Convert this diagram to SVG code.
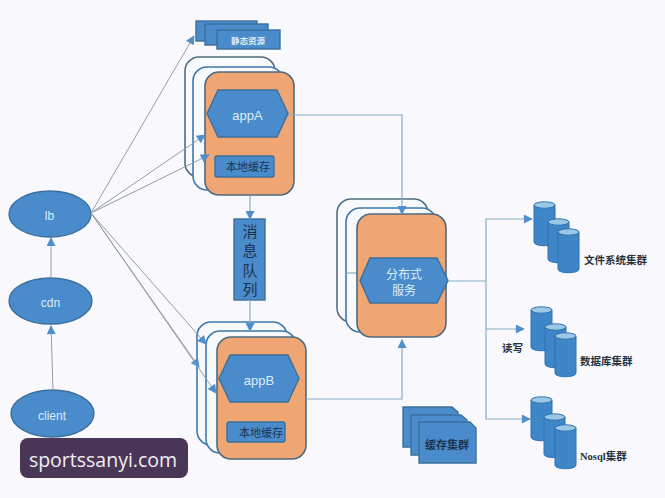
<svg xmlns="http://www.w3.org/2000/svg" width="665" height="498" viewBox="0 0 665 498">
<style>
.bk{fill:#f8f9fd;stroke:#4f6f80;stroke-width:1.6}
.bk2{fill:#f8f9fd;stroke:#3f78a8;stroke-width:1.6}
.or{fill:#f0a672;stroke:#4d6a80;stroke-width:1.6}
.bl{fill:#4a8bcb;stroke:#3c6f9c;stroke-width:1.4}
.cy{fill:#3f86c8;stroke:#2f72ac;stroke-width:1}
.top{fill:#9cc8e6;stroke:#2f72ac;stroke-width:1}
.ln{fill:none;stroke:#86aec6;stroke-width:1.2}
.lg{fill:none;stroke:#929ea8;stroke-width:1}
.w{font-family:"Liberation Sans",Arial,sans-serif;fill:#dcecf8;text-anchor:middle}
.z{font-family:"Noto Sans CJK SC",sans-serif;fill:#1c3350;text-anchor:middle;font-size:11px}
.s{font-family:"Noto Sans CJK SC",serif;fill:#26323c;font-weight:700;font-size:10.5px}
</style>
<defs>
<marker id="a" viewBox="0 0 10 10" refX="9" refY="5" markerWidth="11" markerHeight="9" markerUnits="userSpaceOnUse" orient="auto"><path d="M0 0L10 5L0 10Z" fill="#4f90cc"/></marker>
<g id="cyl"><path class="cy" d="M0 4V41C0 46 21 46 21 41V4Z"/><ellipse class="top" cx="10.500" cy="4" rx="10.500" ry="3.200"/></g>
</defs>
<rect width="665" height="498" fill="#f9f9fd"/>
<g id="client"><ellipse class="bl" cx="52.500" cy="413.500" rx="41.500" ry="23.500"/><text class="w" x="52" y="420" font-size="12">client</text></g>
<g id="cdn"><ellipse class="bl" cx="50.500" cy="301" rx="41.500" ry="23"/><text class="w" x="50.500" y="307" font-size="12">cdn</text></g>
<g id="lb"><ellipse class="bl" cx="50" cy="214" rx="41" ry="23"/><text class="w" x="49.500" y="220" font-size="12">lb</text></g>
<g id="static">
<rect class="bl" x="196" y="21" width="61" height="20"/><rect class="bl" x="205" y="24" width="63" height="21"/><rect class="bl" x="217" y="30" width="63" height="19"/>
<text class="w" x="248" y="44" font-size="8.500" font-weight="700" style="font-family:'Noto Sans CJK SC',sans-serif">静态资源</text></g>
<g id="appA-group">
<rect class="bk" x="185" y="57" width="90" height="120" rx="14"/><rect class="bk2" x="193" y="67" width="90" height="123" rx="14"/><rect class="or" x="205" y="72" width="89" height="123" rx="14"/>
<path class="bl" d="M207 113.500L218 90H277L288 113.500L277 137H218Z"/><text class="w" x="247.500" y="120" font-size="13">appA</text>
<rect class="bl" x="215" y="156" width="59" height="21" rx="2"/><text class="z" x="248" y="171">本地缓存</text></g>
<g id="mq"><rect class="bl" x="234" y="219" width="31" height="81"/><g class="z" style="font-size:15px"><text x="250" y="237">消</text><text x="250" y="256">息</text><text x="250" y="276">队</text><text x="250" y="295">列</text></g></g>
<g id="appB-group">
<rect class="bk2" x="197" y="322" width="90" height="123" rx="14"/><rect class="bk2" x="206" y="331" width="90" height="122" rx="14"/><rect class="or" x="217" y="337" width="89" height="122" rx="14"/>
<path class="bl" d="M219 378.500L230 355H288L299 378.500L288 402H230Z"/><text class="w" x="259" y="385" font-size="13">appB</text>
<rect class="bl" x="227" y="422" width="58" height="20" rx="2"/><text class="z" x="261" y="437">本地缓存</text></g>
<g id="dist-group">
<rect class="bk" x="337" y="199" width="91" height="123" rx="14"/><rect class="bk2" x="346" y="208" width="90" height="124" rx="14"/><path class="ln" d="M346 273H360"/><rect class="or" x="357" y="214" width="89" height="123" rx="14"/>
<path class="bl" d="M360 280.500L370 258H437L448 280.500L437 303H370Z"/>
<text class="w" x="404" y="279" font-size="12" style="font-family:'Noto Sans CJK SC',serif">分布式</text><text class="w" x="404" y="295" font-size="12" style="font-family:'Noto Sans CJK SC',serif">服务</text></g>
<g id="cache-cluster">
<path class="bl" d="M403 407H452L458 412V447H403Z"/><path class="bl" d="M411 415H461L467 420V455H411Z"/><path class="bl" d="M419 422H470L476 428V463H419Z"/>
<text class="z" x="447" y="449" style="font-weight:700">缓存集群</text></g>
<g id="fs-cluster"><use href="#cyl" x="534" y="201"/><use href="#cyl" x="548" y="218"/><use href="#cyl" x="558" y="228"/><text class="s" x="584" y="264">文件系统集群</text></g>
<g id="db-cluster"><use href="#cyl" x="531" y="306"/><use href="#cyl" x="545" y="323"/><use href="#cyl" x="555" y="332"/><text class="s" x="580" y="365">数据库集群</text></g>
<g id="nosql-cluster"><use href="#cyl" x="531" y="396"/><use href="#cyl" x="544" y="413"/><use href="#cyl" x="555" y="424"/><text class="s" x="580" y="460" style="font-family:'Liberation Serif','Noto Sans CJK SC',serif">Nosql集群</text></g>
<text class="s" x="502" y="352">读写</text>
<g id="connectors">
<path class="lg" marker-end="url(#a)" d="M91 213L194 36"/>
<path class="lg" marker-end="url(#a)" d="M91 213L205 135"/>
<path class="lg" marker-end="url(#a)" d="M91 213L209 155"/>
<path class="lg" marker-end="url(#a)" d="M91 213L206 344"/>
<path class="lg" marker-end="url(#a)" d="M91 213L199 367"/>
<path class="lg" marker-end="url(#a)" d="M91 213L216 393"/>
<path class="lg" stroke-width="1.500" marker-end="url(#a)" d="M51 278V238"/>
<path class="lg" stroke-width="1.500" marker-end="url(#a)" d="M53 390L51 326"/>
<path class="ln" marker-end="url(#a)" d="M288 115H402V214"/>
<path class="ln" marker-end="url(#a)" d="M306 399H402V340"/>
<path class="ln" marker-end="url(#a)" d="M250 195V219"/>
<path class="ln" marker-end="url(#a)" d="M250 300V331"/>
<path class="ln" d="M448 281H486"/>
<path class="ln" marker-end="url(#a)" d="M486 281V219H532"/>
<path class="ln" marker-end="url(#a)" d="M486 281V329H524"/>
<path class="ln" marker-end="url(#a)" d="M486 329V419H530"/>
</g>
<g id="watermark"><rect x="20" y="438" width="168" height="40" rx="8" fill="#4a3757"/><text x="103" y="467" text-anchor="middle" font-family="Open Sans,sans-serif" font-size="19.500" fill="#f1eef3">sportssanyi.com</text></g>
</svg>
